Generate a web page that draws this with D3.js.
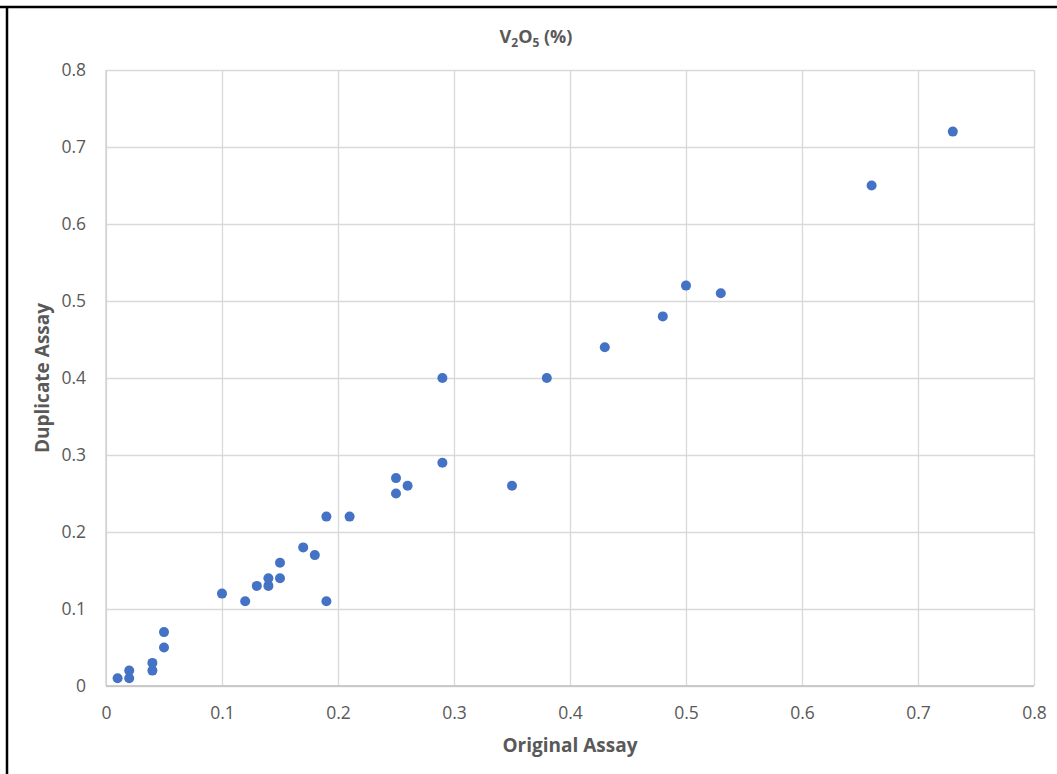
<!DOCTYPE html>
<html lang="en">
<head>
  <meta charset="UTF-8" />
  <title>V2O5 Duplicate vs Original Assay</title>
  <script src="https://d3js.org/d3.v7.min.js"></script>
  <style>
    html, body { margin: 0; padding: 0; background: #fff; }
    svg { display: block; font-family: "Open Sans", "Noto Sans", sans-serif; }
  </style>
</head>
<body>
  <svg width="1057" height="774"></svg>
  <script>
    // duplicate assay data (V2O5 %)
    const original  = [0.01, 0.02, 0.02, 0.04, 0.04, 0.05, 0.05, 0.10, 0.12, 0.13, 0.14, 0.14, 0.15, 0.15, 0.17, 0.18,
                       0.19, 0.19, 0.21, 0.25, 0.25, 0.26, 0.29, 0.29, 0.35, 0.38, 0.43, 0.48, 0.50, 0.53, 0.66, 0.73];
    const duplicate = [0.01, 0.01, 0.02, 0.02, 0.03, 0.05, 0.07, 0.12, 0.11, 0.13, 0.13, 0.14, 0.14, 0.16, 0.18, 0.17,
                       0.11, 0.22, 0.22, 0.25, 0.27, 0.26, 0.29, 0.40, 0.26, 0.40, 0.44, 0.48, 0.52, 0.51, 0.65, 0.72];
    const xTicks = [0, 0.1, 0.2, 0.3, 0.4, 0.5, 0.6, 0.7, 0.8];
    const yTicks = [0, 0.1, 0.2, 0.3, 0.4, 0.5, 0.6, 0.7, 0.8];

    const svg = d3.select("svg");
    const margin = { top: 70, right: 23, bottom: 88, left: 106 };
    const width = 1057 - margin.left - margin.right,
          height = 774 - margin.top - margin.bottom;

    // frame lines (top and left only)
    svg.append("line").attr("x1", 0).attr("x2", 1057).attr("y1", 7).attr("y2", 7)
      .attr("stroke", "#000").attr("stroke-width", 2.5);
    svg.append("line").attr("x1", 7).attr("x2", 7).attr("y1", 6).attr("y2", 774)
      .attr("stroke", "#000").attr("stroke-width", 2.5);

    const chart = svg.append("g").attr("transform", `translate(${margin.left},${margin.top})`);

    const x = d3.scaleLinear().domain([0, 0.8]).range([0, width]);
    const y = d3.scaleLinear().domain([0, 0.8]).range([height, 0]);

    // gridlines
    chart.append("g")
      .call(d3.axisLeft(y).tickValues(yTicks).tickSize(-width).tickFormat(""))
      .call(g => g.select(".domain").remove())
      .selectAll("line").attr("stroke", "#d9d9d9").attr("stroke-width", 1.3);
    chart.append("g")
      .attr("transform", `translate(0,${height})`)
      .call(d3.axisBottom(x).tickValues(xTicks).tickSize(-height).tickFormat(""))
      .call(g => g.select(".domain").remove())
      .selectAll("line").attr("stroke", "#d9d9d9").attr("stroke-width", 1.3);

    // axis lines
    chart.append("line").attr("x1", 0).attr("x2", width).attr("y1", height).attr("y2", height)
      .attr("stroke", "#bfbfbf").attr("stroke-width", 1.5);
    chart.append("line").attr("x1", 0).attr("x2", 0).attr("y1", 0).attr("y2", height)
      .attr("stroke", "#d0d0d0").attr("stroke-width", 1.3);

    // tick labels
    const xAxis = chart.append("g")
      .attr("transform", `translate(0,${height})`)
      .call(d3.axisBottom(x).tickValues(xTicks).tickSize(0).tickPadding(21).tickFormat(d3.format("")));
    xAxis.select(".domain").remove();
    xAxis.selectAll("text").attr("font-size", 17.5).attr("fill", "#595959")
      .attr("font-family", "\"Open Sans\", sans-serif");

    const yAxis = chart.append("g")
      .call(d3.axisLeft(y).tickValues(yTicks).tickSize(0).tickPadding(20).tickFormat(d3.format("")));
    yAxis.select(".domain").remove();
    yAxis.selectAll("text").attr("font-size", 17.5).attr("fill", "#595959")
      .attr("font-family", "\"Open Sans\", sans-serif");

    // points
    const pts = original.map((v, i) => ({ x: v, y: duplicate[i] }));
    chart.selectAll("circle.pt")
      .data(pts)
      .enter()
      .append("circle")
      .attr("class", "pt")
      .attr("cx", d => x(d.x))
      .attr("cy", d => y(d.y))
      .attr("r", 5)
      .attr("fill", "#4472c4");

    // title with subscripts
    const title = svg.append("text")
      .attr("x", 536).attr("y", 43)
      .attr("text-anchor", "middle")
      .attr("font-size", 18).attr("font-weight", "bold").attr("fill", "#595959");
    title.append("tspan").text("V");
    title.append("tspan").text("2").attr("font-size", 12).attr("dy", 4);
    title.append("tspan").text("O").attr("dy", -4);
    title.append("tspan").text("5").attr("font-size", 12).attr("dy", 4);
    title.append("tspan").text(" (%)").attr("dy", -4);

    // axis titles
    svg.append("text")
      .attr("x", margin.left + width / 2).attr("y", 752)
      .attr("text-anchor", "middle")
      .attr("font-size", 19).attr("font-weight", "bold").attr("fill", "#595959")
      .text("Original Assay");

    svg.append("text")
      .attr("transform", `translate(49,${margin.top + height / 2}) rotate(-90)`)
      .attr("text-anchor", "middle")
      .attr("font-size", 19).attr("font-weight", "bold").attr("fill", "#595959")
      .text("Duplicate Assay");
  </script>
</body>
</html>
